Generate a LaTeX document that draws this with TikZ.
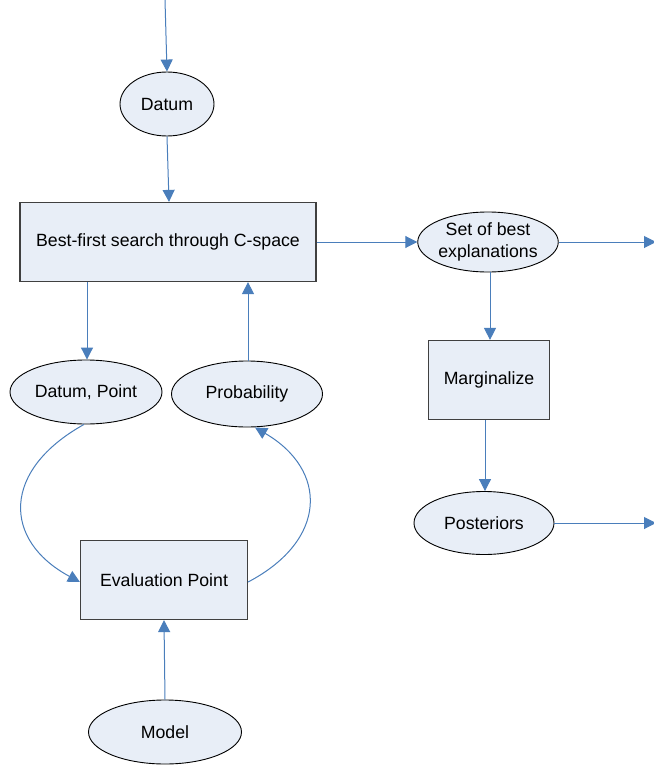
\documentclass[tikz,border=0pt]{standalone}
\usepackage{fontspec}
\setmainfont{Liberation Sans}
\usetikzlibrary{arrows.meta,shapes.geometric}
\definecolor{boxfill}{RGB}{232,238,247}
\definecolor{linkblue}{RGB}{74,126,187}
\definecolor{edgegray}{RGB}{64,64,64}
\tikzset{
  lbl/.style={font=\fontsize{17.7pt}{22pt}\selectfont, text=black, align=center, inner sep=0pt},
  oval/.style={lbl, ellipse, draw=black, line width=0.9pt, fill=boxfill},
  procbox/.style={lbl, rectangle, draw=edgegray, line width=1.2pt, fill=boxfill},
  link/.style={draw=linkblue, line width=1pt, -{Triangle[length=12pt,width=12pt]}}
}
\begin{document}
\begin{tikzpicture}[x=1pt,y=-1pt]
\useasboundingbox (0,0) rectangle (653,765);
% processing steps and data
\node[oval, minimum width=94pt, minimum height=64pt] (datum) at (167,104) {Datum};
\node[procbox, minimum width=296pt, minimum height=79pt] (search) at (168,242) {Best-first search through C-space};
\node[oval, minimum width=140pt, minimum height=60pt] (best) at (488,242) {Set of best\\explanations};
\node[procbox, minimum width=121pt, minimum height=79pt] (marg) at (489,380) {Marginalize};
\node[oval, minimum width=140pt, minimum height=63pt] (post) at (484,523) {Posteriors};
\node[oval, minimum width=152pt, minimum height=64pt] (dp) at (86,392) {Datum, Point};
\node[oval, minimum width=151pt, minimum height=66pt] (prob) at (247,394) {Probability};
\node[procbox, minimum width=167pt, minimum height=79pt] (eval) at (164,580) {Evaluation Point};
\node[oval, minimum width=153pt, minimum height=64pt] (model) at (165,732) {Model};
% free ends
\coordinate (in) at (165,0);
\coordinate (outA) at (656,242);
\coordinate (outB) at (656,523);
% connectors
\draw[link] (in) -- (datum.north);
\draw[link] (datum.south) -- ([xshift=1pt]search.north);
\draw[link] (search.east) -- (best.west);
\draw[link] (best.east) -- (outA);
\draw[link] ([xshift=2pt]best.south) -- ([xshift=1pt]marg.north);
\draw[link] ([xshift=-4pt]marg.south) -- ([xshift=1pt]post.north);
\draw[link] (post.east) -- (outB);
\draw[link] ([xshift=-81pt]search.south) -- ([xshift=1pt]dp.north);
\draw[link] ([xshift=1pt]prob.north) -- ([xshift=80pt]search.south);
\draw[link] (model.north) -- (eval.south);
\draw[link] ([xshift=-2pt]dp.south) .. controls (2,470) and (2,540) .. ([yshift=-2pt]eval.west);
\draw[link] ([yshift=-2pt]eval.east) .. controls (328,540) and (328,470) .. ([xshift=8pt]prob.south);
\end{tikzpicture}
\end{document}
